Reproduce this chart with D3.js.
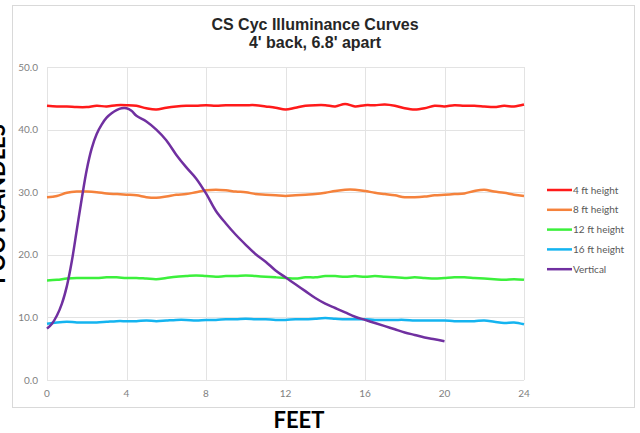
<!DOCTYPE html>
<meta charset='utf-8'>
<html>
  <style>
    body { margin: 0; background: #fff; }
    .tick-label { font-family: Lato, "Open Sans", sans-serif; font-size: 10px; fill: #7f7f7f; }
    .legend text { font-family: Lato, "Open Sans", sans-serif; font-size: 10px; fill: #595959; }
    .title { font-family: "Liberation Sans", Arial, sans-serif; font-weight: bold; font-size: 16px; fill: #262626; }
    .axis-title { font-family: Lato, "Open Sans", sans-serif; font-weight: bold; font-size: 22px; fill: #000; }
  </style>
  <head>
    <script src="https://cdn.jsdelivr.net/npm/d3@7/dist/d3.min.js"></script>
  </head>
  <body>
    <div id="chart"></div>
    <script>
      // readings every half foot, 0 to 24 ft
      var feet = d3.range(0, 24.01, 0.5);
      var fc4 = [43.8,43.7,43.7,43.6,43.6,43.8,43.7,43.9,43.9,43.8,43.4,43.2,43.5,43.7,43.8,43.8,43.9,43.8,43.9,43.9,
                 43.9,43.9,43.7,43.5,43.2,43.5,43.8,43.9,43.9,43.7,44.1,43.7,43.9,43.9,44.0,43.8,43.4,43.2,43.4,43.8,
                 43.7,43.9,43.8,43.8,43.7,43.6,43.8,43.7,44.0];
      var fc8 = [29.2,29.4,29.9,30.1,30.1,30.0,29.8,29.7,29.6,29.5,29.2,29.1,29.3,29.6,29.7,30.0,30.3,30.4,30.3,30.1,
                 30.0,29.7,29.6,29.5,29.4,29.5,29.6,29.7,29.9,30.2,30.4,30.4,30.2,29.9,29.7,29.5,29.2,29.2,29.3,29.5,
                 29.6,29.7,29.8,30.2,30.4,30.1,29.9,29.6,29.4];
      var fc12 = [15.9,16.0,16.2,16.3,16.3,16.3,16.4,16.4,16.3,16.3,16.2,16.1,16.3,16.5,16.6,16.7,16.6,16.5,16.6,16.6,
                  16.7,16.6,16.5,16.4,16.3,16.2,16.4,16.4,16.6,16.6,16.5,16.6,16.5,16.6,16.5,16.4,16.3,16.4,16.3,16.2,
                  16.3,16.4,16.4,16.3,16.2,16.1,16.0,16.1,16.0];
      var fc16 = [9.0,9.2,9.3,9.2,9.2,9.2,9.3,9.4,9.4,9.4,9.5,9.4,9.5,9.6,9.6,9.5,9.6,9.6,9.7,9.7,
                  9.8,9.7,9.7,9.6,9.6,9.7,9.7,9.8,9.9,9.8,9.7,9.7,9.7,9.6,9.6,9.6,9.6,9.5,9.5,9.5,
                  9.5,9.4,9.4,9.4,9.5,9.3,9.1,9.2,8.9];
      // vertical plane, finer steps on the steep rise
      var vertFeet = [0,0.25,0.5,0.75,1,1.25,1.5,1.75,2,2.25,2.5,2.75,3,3.25,3.5,3.75,4,4.25,4.5,5,5.5,6,6.5,7,7.5,8,
                      8.5,9,9.5,10,10.5,11,11.5,12,12.5,13,13.5,14,14.5,15,15.5,16,16.5,17,17.5,18,18.5,19,19.5,20];
      var vertFc = [8.2,9.0,10.3,12.2,15.0,19.0,24.0,29.0,33.6,37.0,39.3,40.8,41.9,42.6,43.1,43.4,43.4,43.0,42.2,41.3,
                    40.0,38.3,36.0,34.0,32.2,29.8,27.0,25.0,23.2,21.6,20.1,18.9,17.5,16.4,15.3,14.2,13.1,12.2,11.5,10.8,
                    10.1,9.6,9.1,8.6,8.1,7.6,7.2,6.8,6.5,6.2];

      var seriesNames = ["4 ft height", "8 ft height", "12 ft height", "16 ft height", "Vertical"];
      var seriesColors = ["#ff1a1a", "#f5823c", "#3cf03c", "#14b4f0", "#7030a0"];
      var xTicks = [0, 4, 8, 12, 16, 20, 24];
      var yTicks = [0, 10, 20, 30, 40, 50];

      var width = 640, height = 433;
      var margin = {top: 67, right: 116, bottom: 53, left: 47};

      var svg = d3.select("#chart").append("svg")
        .attr("width", width)
        .attr("height", height);

      var x = d3.scaleLinear().domain([0, 24]).range([margin.left, width - margin.right]);
      var y = d3.scaleLinear().domain([0, 50]).range([height - margin.bottom, margin.top]);

      // outer frame
      svg.append("rect")
        .attr("x", 12.5).attr("y", 5.5)
        .attr("width", 622).attr("height", 402)
        .attr("fill", "none")
        .attr("stroke", "#d9d9d9");

      // gridlines
      svg.append("g").selectAll("line").data(yTicks).enter().append("line")
        .attr("x1", x(0)).attr("x2", x(24))
        .attr("y1", function(d) { return Math.round(y(d)) + 0.5; })
        .attr("y2", function(d) { return Math.round(y(d)) + 0.5; })
        .attr("stroke", "#e3e3e3");
      svg.append("g").selectAll("line").data(xTicks).enter().append("line")
        .attr("y1", y(0)).attr("y2", y(50))
        .attr("x1", function(d) { return Math.round(x(d)) + 0.5; })
        .attr("x2", function(d) { return Math.round(x(d)) + 0.5; })
        .attr("stroke", "#e3e3e3");

      // tick labels
      svg.append("g").selectAll("text").data(yTicks).enter().append("text")
        .attr("class", "tick-label")
        .attr("x", 38).attr("y", function(d) { return y(d) + 3.5; })
        .attr("text-anchor", "end")
        .text(function(d) { return d.toFixed(1); });
      svg.append("g").selectAll("text").data(xTicks).enter().append("text")
        .attr("class", "tick-label")
        .attr("x", function(d) { return x(d); }).attr("y", 397)
        .attr("text-anchor", "middle")
        .text(function(d) { return d; });

      // lines
      var line = d3.line()
        .x(function(d) { return x(d[0]); })
        .y(function(d) { return y(d[1]); })
        .curve(d3.curveCatmullRom);

      var heights = [fc4, fc8, fc12, fc16];
      heights.forEach(function(vals, i) {
        svg.append("path")
          .datum(d3.zip(feet, vals))
          .attr("d", line)
          .attr("fill", "none")
          .attr("stroke", seriesColors[i])
          .attr("stroke-width", 2.5);
      });
      svg.append("path")
        .datum(d3.zip(vertFeet, vertFc))
        .attr("d", line)
        .attr("fill", "none")
        .attr("stroke", seriesColors[4])
        .attr("stroke-width", 2.5);

      // legend
      var legend = svg.append("g").attr("class", "legend")
        .selectAll("g").data(seriesNames).enter().append("g")
        .attr("transform", function(d, i) { return "translate(547," + (190 + i * 19.8) + ")"; });
      legend.append("line")
        .attr("x1", 0).attr("x2", 25)
        .attr("stroke", function(d, i) { return seriesColors[i]; })
        .attr("stroke-width", 2.5);
      legend.append("text")
        .attr("x", 26).attr("y", 3.5)
        .text(function(d) { return d; });

      // titles
      svg.append("text").attr("class", "title")
        .attr("x", 315).attr("y", 30).attr("text-anchor", "middle")
        .text("CS Cyc Illuminance Curves");
      svg.append("text").attr("class", "title")
        .attr("x", 315).attr("y", 48).attr("text-anchor", "middle")
        .text("4' back, 6.8' apart");

      svg.append("text").attr("class", "axis-title")
        .attr("x", 299).attr("y", 428).attr("text-anchor", "middle")
        .text("FEET");
      // axis title sits partly past the left edge, as in the original
      svg.append("text").attr("class", "axis-title")
        .attr("transform", "translate(5,204) rotate(-90)")
        .attr("text-anchor", "middle")
        .text("FOOTCANDLES");
    </script>
  </body>
</html>
